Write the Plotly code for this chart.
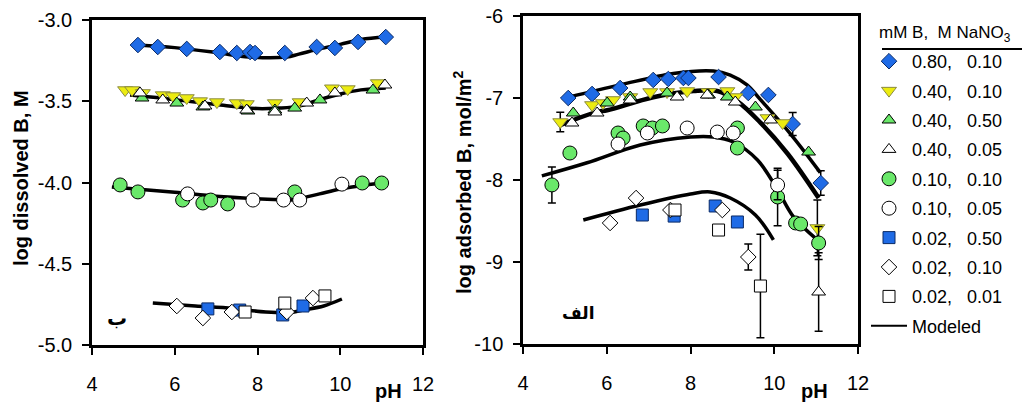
import plotly.graph_objects as go

W, H = 1022, 402
FONT = "Liberation Sans, Arial, sans-serif"


def px(x):
    return x / W


def py(y):
    return 1 - y / H


# ---------------- LEFT PANEL: log dissolved B ----------------
d80_ph = [5.11, 5.59, 6.29, 7.09, 7.50, 7.82, 7.94, 8.66, 9.43, 9.87, 10.43, 11.10]
d80_lb = [-3.154, -3.166, -3.178, -3.197, -3.203, -3.197, -3.203, -3.203, -3.166, -3.172, -3.135, -3.105]

d40_10_ph = [4.80, 4.97, 5.23, 5.71, 5.96, 6.29, 6.61, 7.02, 7.50, 7.74, 8.42, 9.02, 9.80, 10.18, 10.91]
d40_10_lb = [-3.431, -3.431, -3.449, -3.462, -3.468, -3.480, -3.499, -3.505, -3.511, -3.517, -3.511, -3.505, -3.420, -3.425, -3.388]

d40_50_ph = [5.21, 6.05, 6.68, 7.77, 8.42, 8.90, 9.51, 10.79]
d40_50_lb = [-3.480, -3.511, -3.535, -3.560, -3.554, -3.542, -3.492, -3.431]

d40_05_ph = [5.16, 5.71, 6.73, 7.74, 8.42, 9.19, 9.87, 11.08]
d40_05_lb = [-3.449, -3.492, -3.529, -3.554, -3.566, -3.511, -3.449, -3.400]

d10_10_ph = [4.68, 5.11, 6.19, 6.68, 6.87, 7.28, 8.90, 10.53, 11.00]
d10_10_lb = [-4.015, -4.058, -4.108, -4.126, -4.108, -4.132, -4.058, -4.003, -4.003]

d10_05_ph = [6.31, 7.89, 8.63, 9.02, 10.04]
d10_05_lb = [-4.070, -4.108, -4.108, -4.108, -4.010]

d02_50_ph = [6.80, 7.57, 8.61, 9.10]
d02_50_lb = [-4.778, -4.785, -4.815, -4.760]

d02_10_ph = [6.05, 6.68, 7.38, 8.71, 9.34]
d02_10_lb = [-4.760, -4.834, -4.797, -4.797, -4.711]

d02_01_ph = [7.70, 8.66, 9.63]
d02_01_lb = [-4.797, -4.742, -4.698]

# modeled (left)
ml80_ph = [5.1, 6.0, 7.0, 7.8, 8.7, 9.0, 9.5, 10.0, 10.5, 11.1]
ml80_lb = [-3.154, -3.170, -3.200, -3.228, -3.228, -3.210, -3.178, -3.150, -3.120, -3.105]
ml40_ph = [4.92, 6.0, 7.0, 8.0, 8.5, 9.0, 9.5, 10.0, 10.5, 11.1]
ml40_lb = [-3.462, -3.490, -3.520, -3.545, -3.542, -3.530, -3.490, -3.455, -3.430, -3.418]
ml10_ph = [4.48, 6.0, 7.0, 8.0, 8.8, 9.0, 9.5, 10.0, 10.5, 11.1]
ml10_lb = [-4.027, -4.060, -4.085, -4.100, -4.108, -4.100, -4.070, -4.040, -4.020, -4.000]
ml02_ph = [5.47, 6.5, 7.4, 8.2, 8.8, 9.1, 9.6, 10.04]
ml02_lb = [-4.742, -4.760, -4.775, -4.797, -4.800, -4.785, -4.760, -4.717]

# ---------------- RIGHT PANEL: log adsorbed B ----------------
a80_ph = [5.08, 5.65, 6.32, 7.11, 7.47, 7.83, 7.95, 8.67, 9.38, 9.86, 10.44, 11.11]
a80_lb = [-7.000, -6.951, -6.878, -6.780, -6.768, -6.756, -6.756, -6.744, -6.939, -6.963, -7.317, -8.037]
a80_er = [0, 0, 0, 0, 0, 0, 0, 0, 0, 0, 0.14, 0.15]

a40_10_ph = [4.89, 5.65, 5.91, 6.15, 6.56, 7.04, 7.44, 7.92, 8.43, 8.88, 9.07, 9.84, 10.20, 11.03]
a40_10_lb = [-7.293, -7.085, -7.061, -7.024, -6.988, -6.927, -6.927, -6.915, -6.927, -6.915, -6.988, -7.244, -7.305, -8.585]
a40_10_er = [0.12, 0, 0, 0, 0, 0, 0, 0, 0, 0, 0, 0, 0, 0.34]

a40_50_ph = [5.20, 6.01, 6.56, 7.44, 8.43, 8.88, 9.55, 10.82]
a40_50_lb = [-7.183, -7.061, -6.988, -6.939, -6.963, -6.988, -7.110, -7.659]

a40_05_ph = [5.17, 5.77, 6.56, 7.68, 8.40, 9.07, 9.91, 11.06]
a40_05_lb = [-7.305, -7.183, -7.024, -6.988, -6.963, -7.049, -7.268, -9.366]
a40_05_er = [0, 0, 0, 0, 0, 0, 0, 0.48]

a10_10_ph = [4.69, 5.12, 6.27, 6.39, 6.87, 7.09, 7.33, 9.12, 9.12, 10.08, 10.51, 10.63, 11.06]
a10_10_lb = [-8.060, -7.671, -7.427, -7.488, -7.341, -7.366, -7.341, -7.366, -7.610, -8.207, -8.524, -8.537, -8.768]
a10_10_er = [0.22, 0, 0, 0, 0, 0, 0, 0, 0, 0.35, 0, 0, 0.20]

a10_05_ph = [6.27, 6.97, 7.92, 8.64, 9.02, 10.08]
a10_05_lb = [-7.561, -7.427, -7.366, -7.415, -7.427, -8.061]
a10_05_er = [0, 0, 0, 0, 0, 0.18]

a02_50_ph = [6.85, 7.61, 8.59, 9.12]
a02_50_lb = [-8.427, -8.440, -8.317, -8.512]

a02_10_ph = [6.08, 6.70, 7.52, 8.76, 9.38]
a02_10_lb = [-8.524, -8.220, -8.366, -8.366, -8.939]
a02_10_er = [0, 0, 0, 0, 0.16]

a02_01_ph = [7.63, 8.67, 9.67]
a02_01_lb = [-8.366, -8.610, -9.293]
a02_01_er = [0, 0, 0.63]

# modeled (right)
mr80_ph = [5.08, 6.32, 7.59, 8.55, 8.95, 9.35, 9.67, 10.39, 11.10]
mr80_lb = [-6.99, -6.84, -6.70, -6.67, -6.72, -6.84, -7.02, -7.44, -7.91]
mr40_ph = [4.89, 5.77, 6.01, 7.11, 8.07, 8.64, 9.12, 9.67, 10.32, 11.06]
mr40_lb = [-7.33, -7.17, -7.15, -6.99, -6.915, -6.915, -7.04, -7.30, -7.68, -8.22]
mr10_ph = [4.45, 5.53, 6.80, 8.00, 8.55, 9.02, 9.60, 10.08, 10.46, 11.03]
mr10_lb = [-7.95, -7.79, -7.573, -7.475, -7.475, -7.537, -7.756, -8.12, -8.45, -8.73]
mr02_ph = [5.44, 6.80, 8.00, 8.47, 8.95, 9.55, 9.98]
mr02_lb = [-8.488, -8.305, -8.17, -8.146, -8.22, -8.427, -8.73]

# legend labels
labels = ["0.80,\u00a0\u00a0\u00a00.10", "0.40,\u00a0\u00a0\u00a00.10", "0.40,\u00a0\u00a0\u00a00.50",
          "0.40,\u00a0\u00a0\u00a00.05", "0.10,\u00a0\u00a0\u00a00.10", "0.10,\u00a0\u00a0\u00a00.05",
          "0.02,\u00a0\u00a0\u00a00.50", "0.02,\u00a0\u00a0\u00a00.10", "0.02,\u00a0\u00a0\u00a00.01"]

BLUE = "#1f6be6"
GREEN = "#6ae86a"
YELLOW = "#ecec10"

styles = [
    dict(symbol="diamond", size=12, color=BLUE, line=dict(color="#0a2a66", width=1)),
    dict(symbol="triangle-down", size=13, color=YELLOW, line=dict(color="#8a8a40", width=1)),
    dict(symbol="triangle-up", size=12, color=GREEN, line=dict(color="black", width=1)),
    dict(symbol="triangle-up", size=12, color="white", line=dict(color="black", width=1)),
    dict(symbol="circle", size=14, color=GREEN, line=dict(color="black", width=1)),
    dict(symbol="circle", size=14, color="white", line=dict(color="black", width=1)),
    dict(symbol="square", size=12, color=BLUE, line=dict(color="#0a2a66", width=1)),
    dict(symbol="diamond", size=12, color="white", line=dict(color="black", width=1)),
    dict(symbol="square", size=12, color="white", line=dict(color="black", width=1)),
]

left_sets = [(d80_ph, d80_lb), (d40_10_ph, d40_10_lb), (d40_50_ph, d40_50_lb), (d40_05_ph, d40_05_lb),
             (d10_10_ph, d10_10_lb), (d10_05_ph, d10_05_lb), (d02_50_ph, d02_50_lb),
             (d02_10_ph, d02_10_lb), (d02_01_ph, d02_01_lb)]
right_sets = [(a80_ph, a80_lb, a80_er), (a40_10_ph, a40_10_lb, a40_10_er), (a40_50_ph, a40_50_lb, None),
              (a40_05_ph, a40_05_lb, a40_05_er), (a10_10_ph, a10_10_lb, a10_10_er),
              (a10_05_ph, a10_05_lb, a10_05_er), (a02_50_ph, a02_50_lb, None),
              (a02_10_ph, a02_10_lb, a02_10_er), (a02_01_ph, a02_01_lb, a02_01_er)]

fig = go.Figure()

# model lines (drawn first, under markers)
for ph, lb in [(ml80_ph, ml80_lb), (ml40_ph, ml40_lb), (ml10_ph, ml10_lb), (ml02_ph, ml02_lb)]:
    fig.add_trace(go.Scatter(x=ph, y=lb, mode="lines", line=dict(color="black", width=3.5, shape="spline"),
                             xaxis="x", yaxis="y", showlegend=False, hoverinfo="skip"))
for i, (ph, lb) in enumerate([(mr80_ph, mr80_lb), (mr40_ph, mr40_lb), (mr10_ph, mr10_lb), (mr02_ph, mr02_lb)]):
    fig.add_trace(go.Scatter(x=ph, y=lb, mode="lines",
                             line=dict(color="black", width=4.5 if i == 1 else 3.5, shape="spline"),
                             xaxis="x2", yaxis="y2", showlegend=False, hoverinfo="skip"))

for i, (ph, lb) in enumerate(left_sets):
    fig.add_trace(go.Scatter(x=ph, y=lb, mode="markers", marker=styles[i], xaxis="x", yaxis="y",
                             showlegend=False, legendgroup=f"g{i}"))

for i, (ph, lb, er) in enumerate(right_sets):
    kw = {}
    if er is not None:
        kw["error_y"] = dict(type="data", array=er, color="black", thickness=1.5, width=4, visible=True)
    fig.add_trace(go.Scatter(x=ph, y=lb, mode="markers", marker=styles[i], xaxis="x2", yaxis="y2",
                             name=labels[i], legendgroup=f"g{i}", showlegend=True, **kw))

# legend entry for the model
fig.add_trace(go.Scatter(x=[None], y=[None], mode="lines", line=dict(color="black", width=2),
                         name="Modeled", legendgroup="gm", xaxis="x2", yaxis="y2"))

axis_common = dict(showline=True, linecolor="black", linewidth=2.5, mirror=True, showgrid=False,
                   zeroline=False, ticks="outside", ticklen=7, tickwidth=2, tickcolor="black",
                   ticklabeloverflow="allow",
                   tickfont=dict(family=FONT, size=20, color="black"))

xt = [4, 6, 8, 10, 12]
yl_vals = [-5.0, -4.5, -4.0, -3.5, -3.0]
yl_text = ["-5.0", "-4.5", "-4.0", "-3.5", "-3.0"]
yr_vals = [-10, -9, -8, -7, -6]
yr_text = ["-10", "-9", "-8", "-7", "-6"]

fig.update_layout(
    width=W, height=H, autosize=False,
    margin=dict(l=0, r=0, t=0, b=0, autoexpand=False),
    paper_bgcolor="white", plot_bgcolor="white",
    font=dict(family=FONT, color="black"),
    xaxis=dict(domain=[px(92), px(423)], range=[4, 12], anchor="y", tickvals=xt,
               ticktext=[str(v) for v in xt], ticklabelstandoff=12, **axis_common),
    yaxis=dict(domain=[py(345), py(20)], range=[-5, -3], anchor="x", tickvals=yl_vals,
               ticktext=yl_text, ticklabelstandoff=6, **axis_common),
    xaxis2=dict(domain=[px(523), px(858)], range=[4, 12], anchor="y2", tickvals=xt,
                ticktext=[str(v) for v in xt], ticklabelstandoff=12, **axis_common),
    yaxis2=dict(domain=[py(344), py(16)], range=[-10, -6], anchor="x2", tickvals=yr_vals,
                ticktext=yr_text, ticklabelstandoff=6, **axis_common),
    legend=dict(x=px(866), y=py(43), xanchor="left", yanchor="top", bgcolor="rgba(0,0,0,0)",
                font=dict(family=FONT, size=18, color="black"), tracegroupgap=3,
                traceorder="grouped", itemwidth=36),
    showlegend=True,
)

ann = [
    dict(text="<b>log dissolved B, M</b>", x=px(21), y=py(178), textangle=-90,
         font=dict(family=FONT, size=20)),
    dict(text="<b>log adsorbed B, mol/m<sup>2</sup></b>", x=px(462), y=py(182), textangle=-90,
         font=dict(family=FONT, size=20)),
    dict(text="<b>pH</b>", x=px(388), y=py(391), font=dict(family=FONT, size=20)),
    dict(text="<b>pH</b>", x=px(814), y=py(391), font=dict(family=FONT, size=20)),
    dict(text="<b>ب</b>", x=px(117), y=py(318), font=dict(family="DejaVu Sans", size=20)),
    dict(text="<b>الف</b>", x=px(578), y=py(313), font=dict(family="DejaVu Sans", size=17)),
    dict(text="mM B,\u00a0\u00a0M NaNO<sub>3</sub>", x=px(877), y=py(34), xanchor="left",
         font=dict(family=FONT, size=17)),
]
for a in ann:
    a.setdefault("xanchor", "center")
    a.update(xref="paper", yref="paper", yanchor="middle", showarrow=False)
fig.update_layout(annotations=ann)

fig.add_shape(type="line", xref="paper", yref="paper", x0=px(882), x1=1.0, y0=py(49), y1=py(49),
              line=dict(color="black", width=2))

# remove the browser's default 8px page margin so the figure fills the window
fig.write_html("out.html", config={"displayModeBar": False},
               post_script="document.body.style.margin='0px';")
